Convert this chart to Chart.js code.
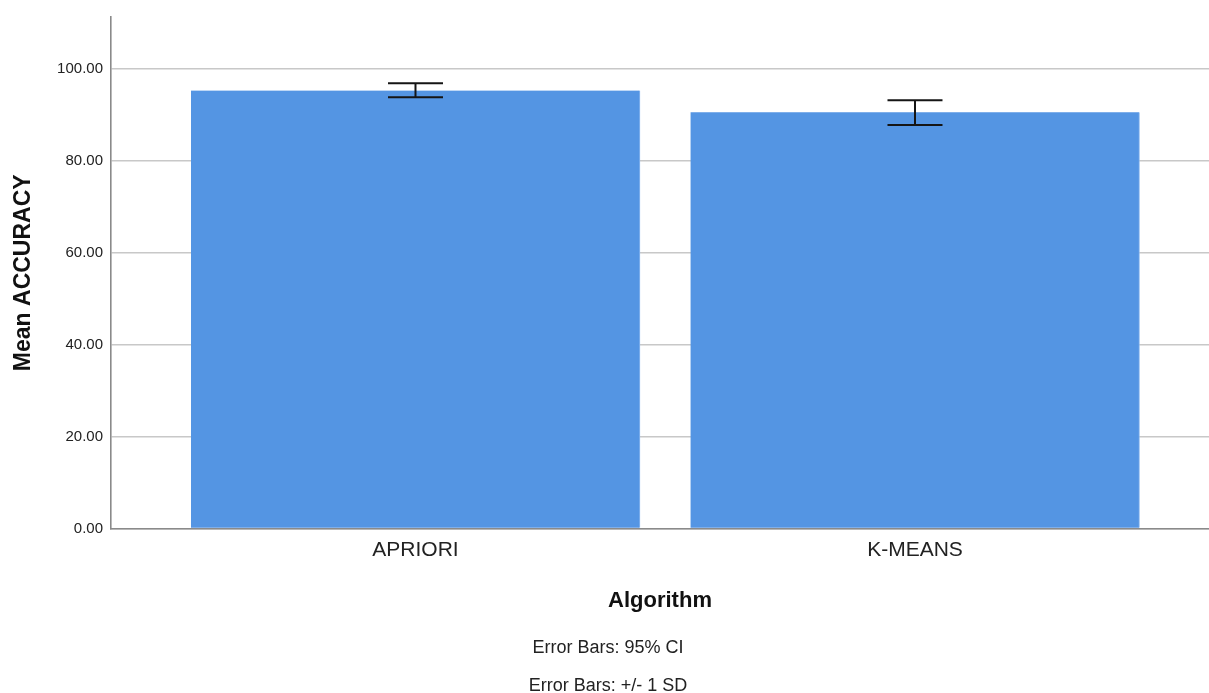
<!DOCTYPE html>
<html>
<head>
<meta charset="utf-8">
<script src="https://cdn.jsdelivr.net/npm/chart.js@4/dist/chart.umd.min.js"></script>
<style>
  html, body { margin: 0; padding: 0; background: #ffffff; }
  #wrap { width: 1209px; height: 693px; position: relative; }
</style>
</head>
<body>
<div id="wrap"><canvas id="c" width="1209" height="693"></canvas></div>
<script>
// ---- data ----
const categories = ["APRIORI", "K-MEANS"];
const meanAccuracy = [95.2, 90.5];
const errHigh = [96.8, 93.1];
const errLow = [93.75, 87.7];
const yTicks = [0, 20, 40, 60, 80, 100];
const notes = ["Error Bars: 95% CI", "Error Bars: +/- 1 SD"];

const FONT = "'Liberation Sans', Arial, Helvetica, sans-serif";
const barData = categories.map((c, i) => ({ x: i, y: meanAccuracy[i] }));

const errorBarPlugin = {
  id: 'errorBars',
  afterDatasetsDraw(chart) {
    const ctx = chart.ctx;
    const xs = chart.scales.x, ys = chart.scales.y;
    ctx.save();
    ctx.strokeStyle = '#151515';
    ctx.lineWidth = 2;
    const half = 27.5;
    categories.forEach((c, i) => {
      const x = xs.getPixelForValue(i);
      const yt = ys.getPixelForValue(errHigh[i]);
      const yb = ys.getPixelForValue(errLow[i]);
      ctx.beginPath();
      ctx.moveTo(x, yt); ctx.lineTo(x, yb);
      ctx.moveTo(x - half, yt); ctx.lineTo(x + half, yt);
      ctx.moveTo(x - half, yb); ctx.lineTo(x + half, yb);
      ctx.stroke();
    });
    ctx.restore();
  }
};

const notesPlugin = {
  id: 'notes',
  afterDraw(chart) {
    const ctx = chart.ctx;
    ctx.save();
    ctx.font = '18px ' + FONT;
    ctx.fillStyle = '#222';
    ctx.textAlign = 'center';
    ctx.textBaseline = 'middle';
    const ys = [648, 686];
    notes.forEach((t, i) => ctx.fillText(t, 608, ys[i]));
    ctx.restore();
  }
};

new Chart(document.getElementById('c'), {
  type: 'bar',
  data: {
    datasets: [{
      label: 'Mean ACCURACY',
      data: barData,
      backgroundColor: '#5495e3',
      borderColor: '#8dbaf0',
      borderWidth: { left: 0, top: 0, right: 1, bottom: 0 },
      barThickness: 449
    }]
  },
  options: {
    responsive: false,
    animation: false,
    events: [],
    layout: { padding: { top: 17, right: 0, bottom: 0, left: 0 } },
    plugins: { legend: { display: false }, tooltip: { enabled: false }, title: { display: false } },
    scales: {
      x: {
        type: 'linear',
        offset: false,
        min: -0.6096,
        max: 1.5886,
        afterBuildTicks(s) { s.ticks = categories.map((c, i) => ({ value: i })); },
        afterFit(s) { s.height = 164.5; },
        grid: { display: false, drawTicks: false, offset: false },
        border: { display: true, color: '#8a8a8a', width: 1.6 },
        ticks: {
          padding: 9.4,
          color: '#222',
          font: { family: FONT, size: 21 },
          maxRotation: 0,
          autoSkip: false,
          callback: (v) => categories[v]
        },
        title: {
          display: true,
          text: 'Algorithm',
          color: '#111',
          font: { family: FONT, size: 22, weight: 'bold' },
          padding: { top: 0, bottom: 79.3 }
        }
      },
      y: {
        min: 0,
        max: 111.2,
        afterBuildTicks(s) { s.ticks = yTicks.map(v => ({ value: v })); },
        afterFit(s) { s.width = 111; },
        grid: { color: '#c8c8c8', lineWidth: 1.5, drawTicks: false },
        border: { display: true, color: '#8a8a8a', width: 1.6 },
        ticks: {
          padding: 8,
          color: '#222',
          font: { family: FONT, size: 15 },
          callback: (v) => Number(v).toFixed(2)
        },
        title: {
          display: true,
          text: 'Mean ACCURACY',
          color: '#111',
          font: { family: FONT, size: 23, weight: 'bold' },
          padding: { top: 9.5, bottom: 0 }
        }
      }
    }
  },
  plugins: [errorBarPlugin, notesPlugin]
});
</script>
</body>
</html>
